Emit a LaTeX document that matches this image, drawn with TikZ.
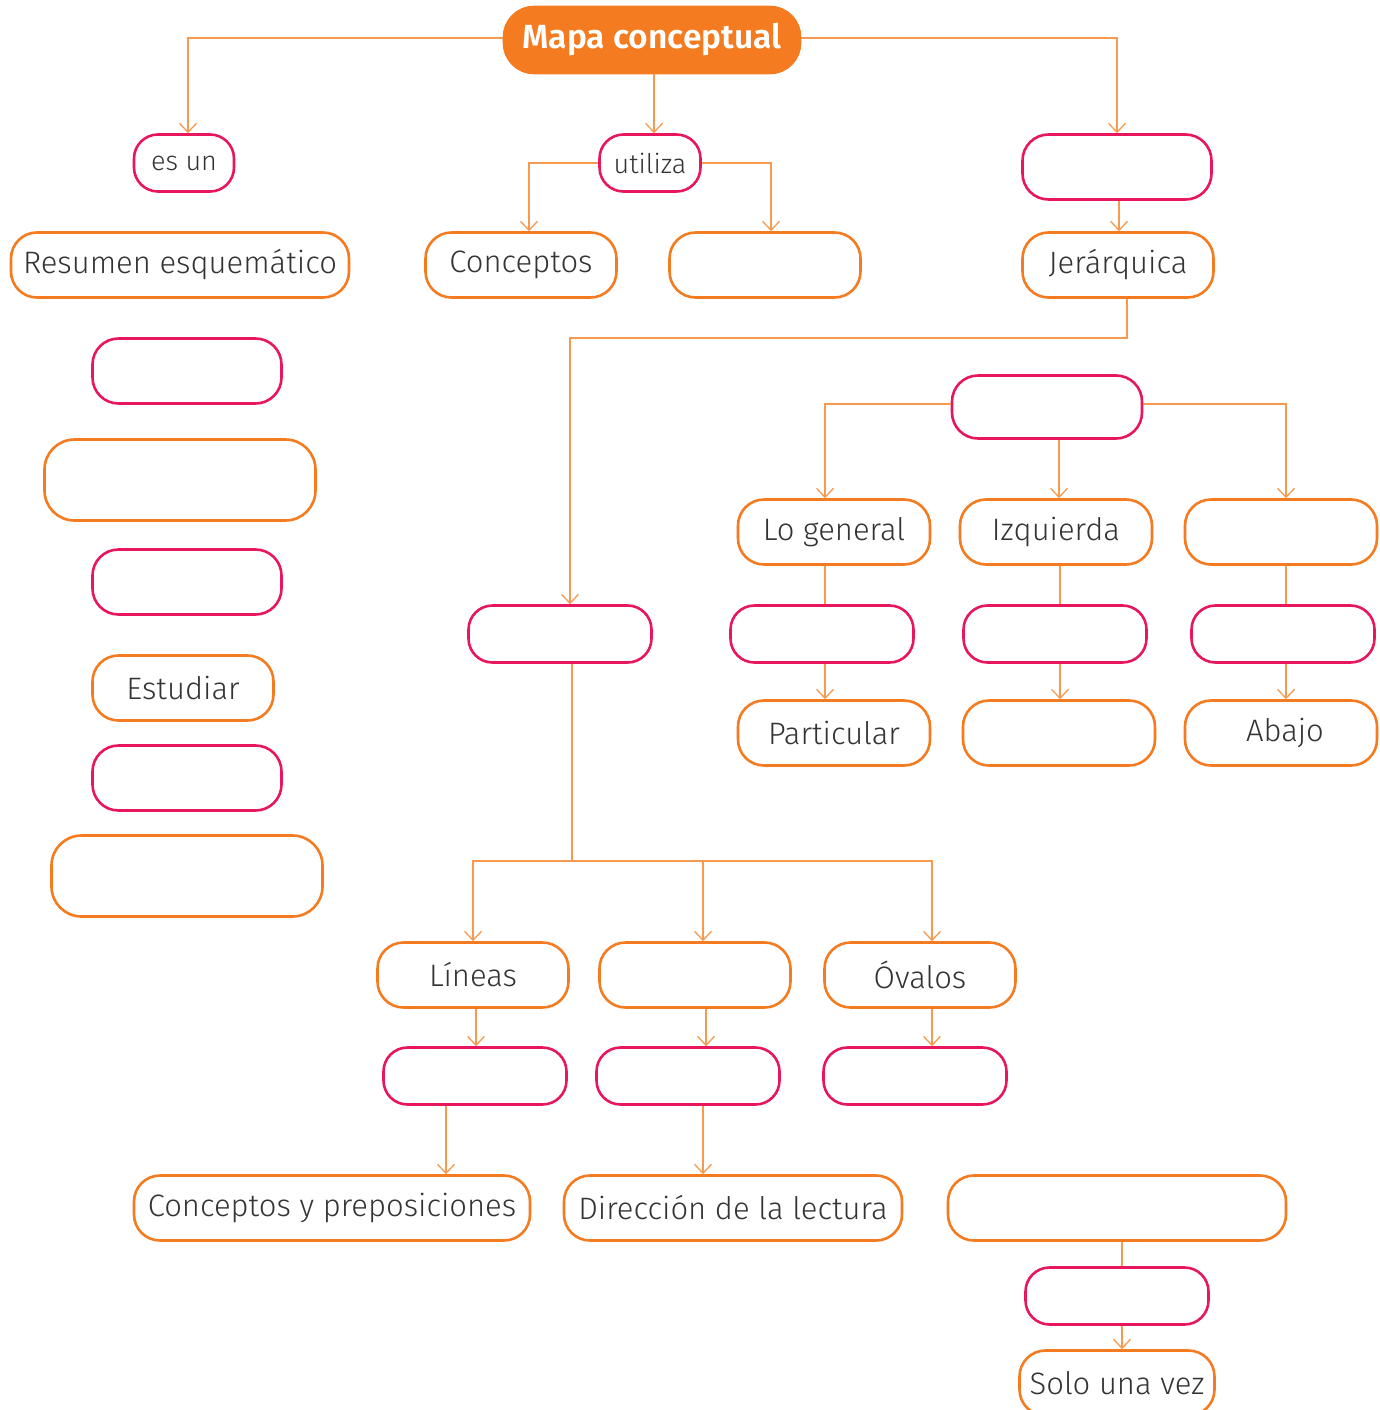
\documentclass[tikz,border=0pt]{standalone}
\usepackage{fontspec}
\setmainfont{Fira Sans}[UprightFont={* Light}, BoldFont={* SemiBold}]
\usetikzlibrary{arrows.meta}
\definecolor{orng}{HTML}{F47B20}
\definecolor{pnk}{HTML}{E8175D}
\definecolor{lnk}{HTML}{F59A50}
\definecolor{txt}{HTML}{333333}
\tikzset{
  x=1pt, y=-1pt,
  base/.style={rounded corners=26pt, line width=2.6pt, inner sep=0pt, text=txt,
    font=\fontsize{31}{36}\selectfont, minimum height=65pt},
  obox/.style={base, draw=orng},
  pbox/.style={base, draw=pnk},
  lbox/.style={pbox, font=\fontsize{27}{32}\selectfont, minimum height=57pt, rounded corners=24pt},
  sbox/.style={pbox, minimum height=57pt, rounded corners=24pt},
  conn/.style={draw=lnk, line width=1.3pt},
  arr/.style={conn, -{Straight Barb[length=9pt,width=17pt,line width=1.3pt]}},
}
\begin{document}
\begin{tikzpicture}
\useasboundingbox (0,0) rectangle (1380,1410);
% title
\node[base, fill=orng, draw=orng, text=white, font=\bfseries\fontsize{33.5}{40}\selectfont,
  minimum width=296pt, minimum height=66pt, rounded corners=30pt] (title) at (652,40) {Mapa conceptual};
% row 1
\node[lbox, minimum width=100pt] (esun) at (184,163) {es un};
\node[lbox, minimum width=101pt] (utiliza) at (650,163) {utiliza};
\node[pbox, minimum width=189pt] (tr) at (1117,167) {};
% row 2
\node[obox, minimum width=338pt] (resumen) at (180,265) {Resumen esquemático};
\node[obox, minimum width=191pt] (conceptos) at (521,265) {Conceptos};
\node[obox, minimum width=191pt] (e1) at (765,265) {};
\node[obox, minimum width=191pt] (jer) at (1118,265) {Jerárquica};
% left column
\node[pbox, minimum width=189pt] (l1) at (187,371) {};
\node[obox, minimum width=271pt, minimum height=81pt, rounded corners=30pt] (l2) at (180,480) {};
\node[pbox, minimum width=189pt] (l3) at (187,582) {};
\node[obox, minimum width=181pt] (estudiar) at (183,688) {Estudiar};
\node[pbox, minimum width=189pt] (l5) at (187,778) {};
\node[obox, minimum width=271pt, minimum height=81pt, rounded corners=30pt] (l6) at (187,876) {};
% middle
\node[sbox, minimum width=183pt] (mid) at (560,634) {};
% right block
\node[pbox, minimum width=190pt, minimum height=63pt] (rt) at (1047,407) {};
\node[obox, minimum width=192pt] (logen) at (834,532) {Lo general};
\node[obox, minimum width=192pt] (izq) at (1056,532) {Izquierda};
\node[obox, minimum width=192pt] (e2) at (1281,532) {};
\node[sbox, minimum width=183pt] (p1) at (822,634) {};
\node[sbox, minimum width=183pt] (p2) at (1055,634) {};
\node[sbox, minimum width=183pt] (p3) at (1283,634) {};
\node[obox, minimum width=192pt] (part) at (834,733) {Particular};
\node[obox, minimum width=192pt] (e3) at (1059,733) {};
\node[obox, minimum width=192pt] (abajo) at (1281,733) {\hspace*{8pt}Abajo};
% lower block
\node[obox, minimum width=191pt] (lineas) at (473,975) {Líneas};
\node[obox, minimum width=191pt] (e4) at (695,975) {};
\node[obox, minimum width=191pt] (ovalos) at (920,975) {Óvalos};
\node[sbox, minimum width=183pt] (q1) at (475,1076) {};
\node[sbox, minimum width=183pt] (q2) at (688,1076) {};
\node[sbox, minimum width=183pt] (q3) at (915,1076) {};
\node[obox, minimum width=396pt] (cyp) at (332,1208) {Conceptos y preposiciones};
\node[obox, minimum width=338pt] (dir) at (733,1208) {Dirección de la lectura};
\node[obox, minimum width=338pt] (e5) at (1117,1208) {};
\node[sbox, minimum width=183pt] (q4) at (1117,1296) {};
\node[obox, minimum width=195pt] (solo) at (1117,1383) {Solo una vez};

% connectors
\draw[arr] ([yshift=2pt]title.west) -| ([xshift=4pt]esun.north);
\draw[arr] ([xshift=2pt]title.south) -- ([xshift=4pt]utiliza.north);
\draw[arr] ([yshift=2pt]title.east) -| (tr.north);
\draw[arr] (utiliza.west) -| ([xshift=8pt]conceptos.north);
\draw[arr] (utiliza.east) -| ([xshift=6pt]e1.north);
\draw[arr] ([xshift=2pt]tr.south) -- ([xshift=1pt]jer.north);
\coordinate (jb) at (1127,338);
\draw[arr] ([xshift=9pt]jer.south) -- (jb) -| ([xshift=10pt]mid.north);
\draw[arr] ([yshift=3pt]rt.west) -| ([xshift=-9pt]logen.north);
\draw[arr] ([xshift=12pt]rt.south) -- ([xshift=3pt]izq.north);
\draw[arr] ([yshift=3pt]rt.east) -| ([xshift=5pt]e2.north);
\draw[conn] ([xshift=-9pt]logen.south) -- ([xshift=3pt]p1.north);
\draw[arr] ([xshift=3pt]p1.south) -- ([xshift=-9pt]part.north);
\draw[conn] ([xshift=4pt]izq.south) -- ([xshift=5pt]p2.north);
\draw[arr] ([xshift=5pt]p2.south) -- ([xshift=1pt]e3.north);
\draw[conn] ([xshift=5pt]e2.south) -- ([xshift=3pt]p3.north);
\draw[arr] ([xshift=3pt]p3.south) -- ([xshift=5pt]abajo.north);
\coordinate (mb) at (572,861);
\draw[conn] ([xshift=12pt]mid.south) -- (mb);
\draw[arr] (mb) -| (lineas.north);
\draw[arr] (mb) -| ([xshift=8pt]e4.north);
\draw[arr] (mb) -| ([xshift=12pt]ovalos.north);
\draw[arr] ([xshift=3pt]lineas.south) -- ([xshift=1pt]q1.north);
\draw[arr] ([xshift=11pt]e4.south) -- ([xshift=18pt]q2.north);
\draw[arr] ([xshift=12pt]ovalos.south) -- ([xshift=17pt]q3.north);
\draw[arr] ([xshift=-29pt]q1.south) -- ([xshift=114pt]cyp.north);
\draw[arr] ([xshift=15pt]q2.south) -- ([xshift=-30pt]dir.north);
\draw[conn] ([xshift=5pt]e5.south) -- ([xshift=5pt]q4.north);
\draw[arr] ([xshift=5pt]q4.south) -- ([xshift=5pt]solo.north);
\end{tikzpicture}
\end{document}
